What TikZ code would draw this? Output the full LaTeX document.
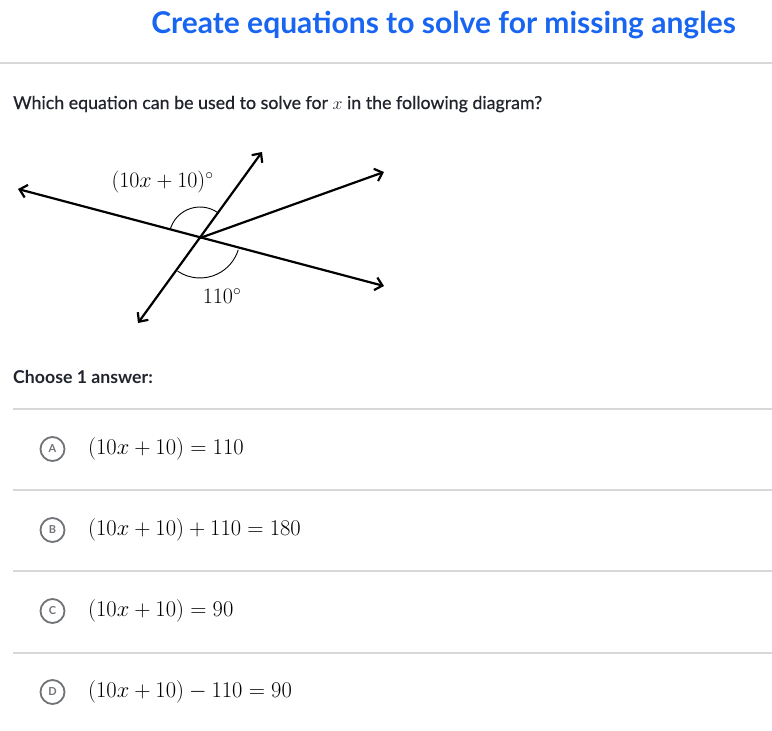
\RequirePackage{fix-cm}
\documentclass[tikz,border=0pt]{standalone}
\usepackage{fontspec}
\usepackage{amsmath,amssymb}
\usepackage{tikz}
\usetikzlibrary{arrows.meta, positioning, calc}
\newfontfamily\latofont{Lato}
\newfontfamily\latomid{Lato}[FakeBold=0.6]
\definecolor{kablue}{HTML}{1865F2}
\definecolor{inkdark}{HTML}{21242C}
\definecolor{rulegray}{HTML}{D6D8DA}
\definecolor{choicegray}{HTML}{6F7276}
\tikzset{
  titletxt/.style={font=\latofont\bfseries\fontsize{30}{34}\selectfont, text=kablue, inner sep=0pt},
  asktxt/.style={font=\latomid\fontsize{17.8}{22}\selectfont, text=inkdark, inner sep=0pt},
  choosetxt/.style={font=\latofont\bfseries\fontsize{17.7}{21}\selectfont, text=inkdark, inner sep=0pt},
  sep/.style={draw=rulegray, line width=1.2pt},
  ln/.style={{Straight Barb[length=7pt,width=13pt]}-{Straight Barb[length=7pt,width=13pt]}, line width=2.2pt, line cap=round},
  rayln/.style={-{Straight Barb[length=7pt,width=13pt]}, line width=2.2pt, line cap=round},
  arcln/.style={line width=0.9pt},
  anglbl/.style={font=\fontsize{22}{26}\selectfont, inner sep=0pt},
  optcirc/.style={circle, draw=choicegray, line width=1.8pt, minimum size=24pt, inner sep=0pt,
    text=choicegray, font=\latofont\bfseries\fontsize{11}{12}\selectfont},
  eqn/.style={font=\fontsize{22.5}{27}\selectfont, anchor=west, inner sep=0pt},
}

\begin{document}
\begin{tikzpicture}[x=1pt, y=1pt]

\useasboundingbox (0,0) rectangle (772,-731);

\node[titletxt, anchor=base] (Title) at (443.5,-33) {Create equations to solve for missing angles};
\draw[sep] (0,-63) -- (772,-63);

\node[asktxt, anchor=base west] (Ask) at (13,-109) {Which equation can be used to solve for $x$ in the following diagram?};

% lines through O
\coordinate (O) at (200,-238);
\coordinate (LA) at (18,-189);
\coordinate (LB) at (384,-286);
\coordinate (TA) at (262,-152);
\coordinate (TB) at (138,-323);
\coordinate (RB) at (384,-172);

\draw[ln] (LA) -- (LB);
\draw[ln] (TB) -- (TA);
\draw[rayln] (O) -- (RB);
\draw[arcln] (O) ++(55:31) arc[start angle=55, end angle=164, radius=31];
\draw[arcln] (O) ++(236:40) arc[start angle=236, end angle=343, radius=40];

\node[anglbl] (AngX) at (162.5,-182) {$(10x+10)^\circ$};
\node[anglbl] (AngK) at (222,-296) {$110^\circ$};

\node[choosetxt, anchor=base west] (Choose) at (13,-383) {Choose 1 answer:};

\draw[sep] (13,-409) -- (772,-409);
\draw[sep] (13,-490) -- (772,-490);
\draw[sep] (13,-571) -- (772,-571);
\draw[sep] (13,-653) -- (772,-653);

\node[optcirc] (OpA) at (52.5,-449) {A};
\node[eqn] (EqA) at (88,-449) {$(10x+10)=110$};

\node[optcirc] (OpB) at (52.5,-530) {B};
\node[eqn] (EqB) at (88,-530) {$(10x+10)+110=180$};

\node[optcirc] (OpC) at (52.5,-611) {C};
\node[eqn] (EqC) at (88,-611) {$(10x+10)=90$};

\node[optcirc] (OpD) at (52.5,-692) {D};
\node[eqn] (EqD) at (88,-692) {$(10x+10)-110=90$};

\end{tikzpicture}
\end{document}
